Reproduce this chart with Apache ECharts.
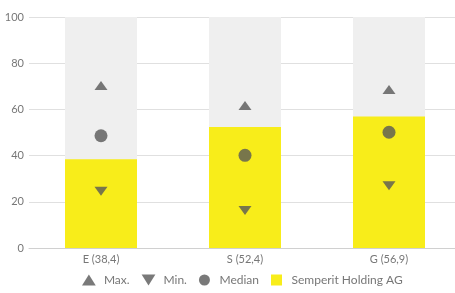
<!DOCTYPE html>
<html>
<head>
<meta charset="utf-8">
<script src="https://cdn.jsdelivr.net/npm/echarts@6/dist/echarts.min.js"></script>
<style>
  html, body { margin: 0; padding: 0; background: #fff; }
  #chart { width: 455px; height: 293px; }
</style>
</head>
<body>
<div id="chart"></div>
<script>
// data
const categories = ['E (38,4)', 'S (52,4)', 'G (56,9)'];
const companyScores = [38.4, 52.4, 56.9];
const maxScores = [70.3, 61.7, 68.6];
const minScores = [24.6, 16.2, 27.0];
const medianScores = [48.6, 40.1, 50.1];
const yTicks = [0, 20, 40, 60, 80, 100];

const fontFamily = 'Lato, "Open Sans", sans-serif';
const markerColor = '#575757';
const triUp = 'path://M5,0 L10,8 L0,8 Z';
const triDown = 'path://M0,0 L10,0 L5,8 Z';
const square = 'path://M0,0 L10,0 L10,10 L0,10 Z';

const chart = echarts.init(document.getElementById('chart'));

const option = {
  animation: false,
  textStyle: { fontFamily: fontFamily },
  // plot runs a little past the right edge of the picture
  grid: { left: 29, width: 432, top: 17, bottom: 45, outerBoundsMode: 'none' },
  legend: {
    bottom: 2,
    left: 77,
    itemWidth: 14,
    itemHeight: 11,
    itemGap: 12,
    textStyle: { color: '#777', fontSize: 12, fontFamily: fontFamily, padding: [0, 0, 0, 3] },
    data: [
      { name: 'Max.', icon: triUp },
      { name: 'Min.', icon: triDown },
      { name: 'Median', icon: 'circle' },
      { name: 'Semperit Holding AG', icon: square, itemStyle: { color: '#f8ed1a' } }
    ]
  },
  xAxis: {
    type: 'category',
    data: categories,
    axisTick: { show: false },
    axisLine: { lineStyle: { color: '#d0d0d0' } },
    axisLabel: { color: '#777', fontSize: 11, margin: 6 }
  },
  yAxis: {
    type: 'value',
    min: yTicks[0],
    max: yTicks[yTicks.length - 1],
    interval: 20,
    axisLine: { show: false },
    axisTick: { show: false },
    axisLabel: { color: '#777', fontSize: 11, margin: 5 },
    splitLine: { lineStyle: { color: '#e0e0e0' } }
  },
  series: [
    {
      name: 'Semperit Holding AG',
      type: 'bar',
      data: companyScores,
      barWidth: '50%',
      itemStyle: { color: '#f8ed1a' },
      showBackground: true,
      backgroundStyle: { color: '#efefef' },
      z: 1
    },
    {
      name: 'Max.',
      type: 'scatter',
      data: maxScores,
      symbol: triUp,
      symbolSize: [13, 9],
      itemStyle: { color: markerColor },
      z: 5
    },
    {
      name: 'Min.',
      type: 'scatter',
      data: minScores,
      symbol: triDown,
      symbolSize: [13, 9],
      itemStyle: { color: markerColor },
      z: 5
    },
    {
      name: 'Median',
      type: 'scatter',
      data: medianScores,
      symbol: 'circle',
      symbolSize: 13,
      itemStyle: { color: markerColor },
      z: 5
    }
  ]
};

chart.setOption(option);
</script>
</body>
</html>
